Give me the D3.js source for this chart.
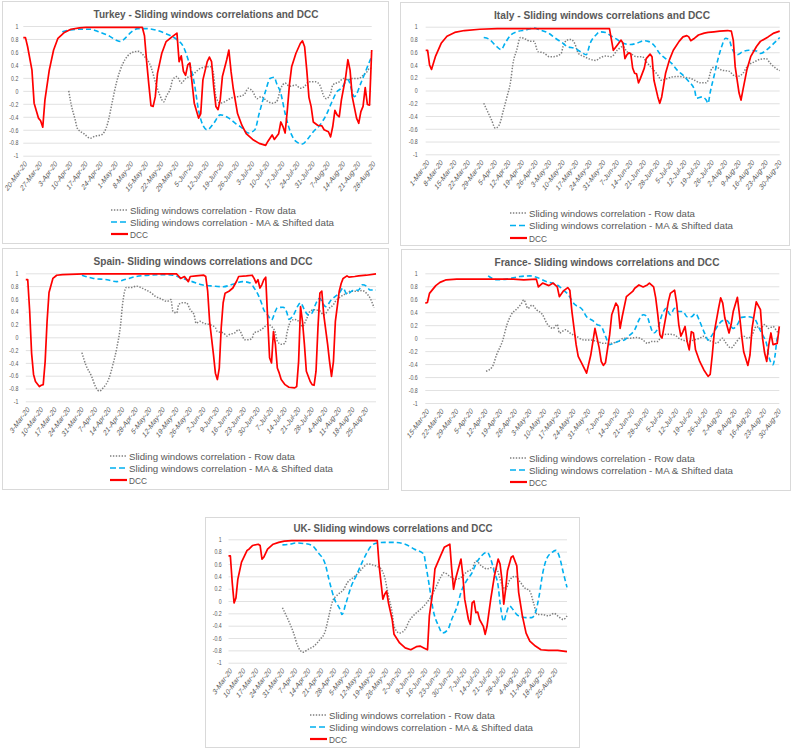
<!DOCTYPE html>
<html><head><meta charset="utf-8">
<script src="https://cdn.jsdelivr.net/npm/d3@7"></script>
<style>
body{margin:0;background:#fff}
svg text{font-family:"Liberation Sans",Arial,sans-serif}
</style>
</head><body>
<svg id="c" width="792" height="749"></svg>
<script>
// ---------- DATA (x = days after first axis date, y = correlation) ----------
const yTicks = [1, 0.8, 0.6, 0.4, 0.2, 0, -0.2, -0.4, -0.6, -0.8, -1];
const yTickLabels = ["1","0.8","0.6","0.4","0.2","0","-0.2","-0.4","-0.6","-0.8","-1"];
const legendLabels = ["Sliding windows correlation - Row data","Sliding windows correlation - MA & Shifted data","DCC"];

const turkeyDates = ["20-Mar-20","27-Mar-20","3-Apr-20","10-Apr-20","17-Apr-20","24-Apr-20","1-May-20","8-May-20","15-May-20","22-May-20","29-May-20","5-Jun-20","12-Jun-20","19-Jun-20","26-Jun-20","3-Jul-20","10-Jul-20","17-Jul-20","24-Jul-20","31-Jul-20","7-Aug-20","14-Aug-20","21-Aug-20","28-Aug-20"];
const italyDates = ["1-Mar-20","8-Mar-20","15-Mar-20","22-Mar-20","29-Mar-20","5-Apr-20","12-Apr-20","19-Apr-20","26-Apr-20","3-May-20","10-May-20","17-May-20","24-May-20","31-May-20","7-Jun-20","14-Jun-20","21-Jun-20","28-Jun-20","5-Jul-20","12-Jul-20","19-Jul-20","26-Jul-20","2-Aug-20","9-Aug-20","16-Aug-20","23-Aug-20","30-Aug-20"];
const spainDates = ["3-Mar-20","10-Mar-20","17-Mar-20","24-Mar-20","31-Mar-20","7-Apr-20","14-Apr-20","21-Apr-20","28-Apr-20","5-May-20","12-May-20","19-May-20","26-May-20","2-Jun-20","9-Jun-20","16-Jun-20","23-Jun-20","30-Jun-20","7-Jul-20","14-Jul-20","21-Jul-20","28-Jul-20","4-Aug-20","11-Aug-20","18-Aug-20","25-Aug-20"];
const franceDates = ["15-Mar-20","22-Mar-20","29-Mar-20","5-Apr-20","12-Apr-20","19-Apr-20","26-Apr-20","3-May-20","10-May-20","17-May-20","24-May-20","31-May-20","7-Jun-20","14-Jun-20","21-Jun-20","28-Jun-20","5-Jul-20","12-Jul-20","19-Jul-20","26-Jul-20","2-Aug-20","9-Aug-20","16-Aug-20","23-Aug-20","30-Aug-20"];
const ukDates = ["3-Mar-20","10-Mar-20","17-Mar-20","24-Mar-20","31-Mar-20","7-Apr-20","14-Apr-20","21-Apr-20","28-Apr-20","5-May-20","12-May-20","19-May-20","26-May-20","2-Jun-20","9-Jun-20","16-Jun-20","23-Jun-20","30-Jun-20","7-Jul-20","14-Jul-20","21-Jul-20","28-Jul-20","4-Aug-20","11-Aug-20","18-Aug-20","25-Aug-20"];

const turkeyRow = [[21,0.0],[22,-0.19],[24,-0.45],[25,-0.58],[28,-0.66],[31,-0.73],[33,-0.7],[36,-0.68],[39,-0.5],[41,-0.19],[43,0.12],[46,0.42],[48,0.53],[51,0.6],[53,0.61],[56,0.53],[59,0.37],[61,0.14],[63,-0.06],[65,-0.17],[66,-0.09],[68,0.04],[69,0.17],[71,0.22],[73,0.12],[75,0.19],[78,0.24],[80,0.3],[82,0.35],[85,0.37],[87,0.37],[88,0.24],[89,-0.09],[91,-0.19],[93,-0.17],[95,-0.13],[97,-0.1],[99,-0.09],[102,-0.06],[104,0.04],[106,-0.01],[108,-0.12],[110,-0.09],[112,-0.14],[115,-0.19],[117,-0.17],[119,0.04],[121,0.12],[123,0.07],[126,0.09],[128,0.04],[130,0.07],[132,0.14],[135,0.14],[137,0.09],[139,-0.09],[140,-0.12],[142,-0.04],[143,0.09],[146,0.14],[148,0.19],[150,0.17],[152,0.19],[155,0.19],[157,0.24],[159,0.3],[160,0.35],[161,0.35]];
const turkeyMA = [[18,0.91],[22,0.94],[26,0.95],[31,0.95],[35,0.91],[40,0.84],[43,0.78],[45,0.76],[47,0.81],[50,0.91],[53,0.96],[57,0.96],[62,0.93],[66,0.88],[71,0.79],[74,0.68],[76,0.5],[79,0.12],[81,-0.3],[83,-0.53],[85,-0.6],[88,-0.5],[91,-0.37],[95,-0.42],[98,-0.5],[101,-0.57],[104,-0.65],[107,-0.6],[109,-0.35],[112,0.0],[114,0.19],[116,0.21],[117,0.12],[119,-0.04],[121,-0.35],[124,-0.68],[126,-0.78],[129,-0.82],[131,-0.76],[134,-0.63],[137,-0.53],[140,-0.37],[143,-0.14],[145,-0.01],[147,0.04],[149,0.14],[150,0.17],[153,-0.09],[156,0.12],[159,0.37],[161,0.53]];
const turkeyDCC = [[0,0.82],[1,0.82],[2,0.68],[4,0.32],[5,-0.19],[7,-0.42],[8,-0.46],[9,-0.56],[10,-0.14],[12,0.32],[14,0.63],[16,0.81],[19,0.9],[22,0.95],[26,0.97],[29,0.98],[55,0.98],[56,0.85],[57,0.45],[58,0.1],[59,-0.23],[60,-0.24],[61,-0.09],[62,0.27],[64,0.58],[66,0.76],[69,0.84],[71,0.89],[72,0.45],[73,0.54],[74,0.3],[75,0.24],[76,0.4],[77,0.43],[78,0.12],[79,-0.19],[81,-0.42],[82,-0.35],[83,0.17],[85,0.45],[86,0.52],[87,0.45],[88,0.06],[89,-0.24],[90,-0.29],[91,-0.14],[92,0.22],[94,0.48],[95,0.63],[96,0.3],[97,0.04],[99,-0.35],[101,-0.53],[103,-0.66],[106,-0.75],[109,-0.81],[112,-0.84],[113,-0.78],[115,-0.68],[116,-0.75],[118,-0.66],[119,-0.48],[120,-0.55],[121,-0.65],[122,-0.3],[123,0.1],[124,0.37],[126,0.58],[128,0.73],[129,0.77],[130,0.68],[131,0.32],[132,-0.1],[133,-0.24],[134,-0.48],[136,-0.53],[138,-0.54],[139,-0.6],[141,-0.63],[142,-0.71],[143,-0.55],[144,-0.3],[145,-0.37],[146,-0.4],[147,-0.14],[149,0.22],[150,0.48],[151,0.32],[152,-0.09],[154,-0.42],[155,-0.5],[156,-0.32],[157,-0.24],[158,0.05],[159,-0.21],[160,-0.22],[161,0.63]];

const italyRow = [[30,-0.2],[32,-0.33],[34,-0.46],[36,-0.59],[38,-0.54],[40,-0.33],[42,-0.1],[44,0.16],[45,0.4],[47,0.63],[49,0.83],[52,0.8],[54,0.77],[56,0.77],[58,0.61],[61,0.59],[64,0.53],[66,0.53],[70,0.58],[71,0.69],[73,0.79],[75,0.8],[77,0.74],[79,0.58],[82,0.53],[85,0.49],[88,0.47],[90,0.51],[93,0.54],[96,0.53],[99,0.63],[102,0.69],[104,0.61],[107,0.56],[109,0.53],[112,0.53],[114,0.45],[117,0.35],[120,0.24],[122,0.16],[125,0.19],[127,0.21],[131,0.22],[133,0.21],[137,0.19],[139,0.16],[142,0.12],[145,0.12],[146,0.16],[148,0.35],[150,0.37],[153,0.32],[157,0.3],[159,0.24],[161,0.22],[164,0.27],[166,0.37],[170,0.45],[173,0.49],[176,0.5],[178,0.43],[181,0.35],[183,0.31]];
const italyMA = [[30,0.83],[33,0.8],[36,0.71],[39,0.64],[41,0.74],[44,0.87],[47,0.92],[52,0.95],[56,0.98],[59,0.95],[64,0.89],[67,0.82],[71,0.74],[73,0.69],[77,0.66],[80,0.61],[83,0.56],[85,0.74],[88,0.87],[90,0.92],[93,0.91],[96,0.85],[99,0.8],[102,0.74],[106,0.72],[109,0.74],[113,0.78],[115,0.77],[118,0.71],[121,0.58],[124,0.5],[127,0.43],[130,0.32],[133,0.24],[136,0.14],[139,0.01],[140,-0.12],[143,-0.1],[145,-0.15],[146,-0.2],[147,-0.04],[149,0.22],[151,0.48],[153,0.69],[155,0.82],[157,0.79],[158,0.69],[161,0.56],[164,0.61],[167,0.63],[171,0.62],[173,0.58],[176,0.63],[179,0.71],[183,0.83]];
const italyDCC = [[0,0.63],[1,0.63],[2,0.4],[3,0.33],[5,0.53],[8,0.74],[11,0.85],[15,0.91],[20,0.94],[28,0.96],[37,0.97],[95,0.97],[97,0.63],[99,0.71],[101,0.79],[102,0.74],[103,0.5],[104,0.56],[105,0.59],[106,0.58],[107,0.35],[108,0.27],[109,0.26],[110,0.12],[111,0.19],[113,0.35],[114,0.5],[116,0.57],[117,0.53],[118,0.16],[120,-0.1],[121,-0.2],[122,-0.1],[124,0.27],[126,0.48],[128,0.63],[131,0.77],[133,0.84],[135,0.86],[136,0.84],[137,0.78],[139,0.82],[141,0.87],[144,0.9],[146,0.91],[149,0.92],[152,0.93],[156,0.94],[158,0.93],[159,0.79],[160,0.37],[162,-0.04],[163,-0.15],[164,0.01],[166,0.32],[168,0.53],[171,0.69],[173,0.77],[177,0.84],[180,0.9],[183,0.93]];

const spainRow = [[29,-0.24],[31,-0.43],[34,-0.61],[36,-0.77],[38,-0.84],[40,-0.79],[43,-0.64],[45,-0.43],[47,-0.17],[49,0.2],[50,0.51],[52,0.78],[55,0.78],[57,0.8],[60,0.77],[62,0.74],[65,0.69],[67,0.64],[70,0.6],[73,0.56],[75,0.59],[76,0.41],[78,0.38],[79,0.51],[81,0.54],[83,0.54],[85,0.43],[87,0.35],[88,0.22],[90,0.25],[92,0.22],[95,0.2],[98,0.15],[99,0.09],[102,0.07],[104,0.02],[105,0.04],[108,0.07],[110,0.12],[112,0.02],[113,-0.04],[115,-0.04],[117,-0.01],[118,0.07],[120,0.09],[123,0.15],[125,0.2],[127,0.17],[129,0.07],[130,-0.06],[132,-0.11],[134,-0.09],[135,0.07],[137,0.25],[139,0.28],[141,0.25],[143,0.17],[145,0.28],[147,0.41],[149,0.43],[152,0.41],[154,0.35],[157,0.46],[159,0.51],[160,0.56],[163,0.64],[166,0.69],[168,0.72],[171,0.72],[174,0.73],[176,0.69],[178,0.61],[180,0.46]];
const spainMA = [[29,0.97],[35,0.92],[42,0.9],[47,0.87],[52,0.91],[57,0.95],[64,0.97],[71,0.98],[76,0.97],[81,0.92],[86,0.87],[91,0.82],[97,0.8],[102,0.79],[107,0.83],[112,0.87],[116,0.85],[118,0.77],[120,0.67],[122,0.52],[123,0.43],[125,0.35],[127,0.27],[129,0.41],[130,0.46],[133,0.47],[135,0.38],[136,0.28],[138,0.33],[141,0.51],[142,0.54],[144,0.43],[146,0.35],[148,0.38],[149,0.46],[152,0.61],[153,0.56],[155,0.48],[158,0.59],[160,0.64],[162,0.69],[164,0.77],[166,0.67],[169,0.73],[172,0.74],[174,0.82],[176,0.8],[178,0.74],[181,0.74]];
const spainDCC = [[0,0.9],[1,0.9],[2,0.41],[3,-0.25],[4,-0.58],[5,-0.69],[7,-0.77],[8,-0.75],[9,-0.74],[10,-0.38],[11,0.25],[12,0.7],[14,0.92],[16,0.97],[19,0.98],[30,0.99],[78,0.99],[80,0.92],[82,0.95],[84,0.87],[85,0.95],[88,0.96],[92,0.97],[93,0.95],[94,0.72],[95,0.25],[97,-0.27],[98,-0.56],[99,-0.66],[100,-0.48],[101,0.15],[102,0.54],[103,0.69],[105,0.72],[107,0.77],[109,0.88],[110,0.95],[114,0.96],[117,0.97],[118,0.92],[119,0.85],[120,0.9],[121,0.77],[122,0.82],[123,0.9],[124,0.94],[125,0.29],[126,-0.32],[127,-0.4],[128,0.09],[129,-0.11],[130,-0.48],[131,-0.56],[132,-0.66],[134,-0.74],[136,-0.78],[139,-0.79],[140,-0.77],[141,-0.38],[142,0.48],[143,0.25],[144,-0.11],[145,-0.53],[147,-0.69],[148,-0.74],[149,-0.75],[150,-0.53],[151,0.15],[152,0.69],[153,0.72],[154,0.35],[156,-0.11],[157,-0.38],[158,-0.61],[159,-0.38],[160,0.25],[162,0.72],[163,0.84],[164,0.92],[166,0.96],[167,0.94],[170,0.95],[172,0.96],[176,0.97],[181,0.99]];

const franceRow = [[29,-0.51],[32,-0.44],[34,-0.26],[37,-0.03],[39,0.21],[41,0.36],[44,0.46],[46,0.54],[47,0.59],[49,0.46],[51,0.51],[53,0.44],[56,0.36],[58,0.23],[61,0.15],[63,0.21],[64,0.08],[67,0.13],[69,0.08],[72,0.03],[76,-0.03],[79,-0.03],[82,-0.05],[85,-0.08],[88,-0.08],[92,-0.05],[95,0.0],[98,0.0],[101,0.01],[104,-0.03],[106,-0.08],[108,-0.05],[111,-0.05],[113,0.05],[116,0.06],[119,0.05],[121,0.0],[123,-0.03],[126,-0.05],[128,-0.03],[131,0.0],[133,0.03],[135,-0.03],[137,-0.05],[139,-0.08],[142,0.0],[143,-0.05],[146,-0.15],[148,-0.08],[150,0.0],[152,0.03],[154,0.0],[156,0.05],[158,0.18],[160,0.15],[162,0.21],[164,0.15],[166,0.18],[168,0.1],[169,0.08]];
const franceMA = [[30,0.96],[34,0.9],[39,0.91],[45,0.95],[50,0.96],[53,0.94],[58,0.87],[63,0.82],[66,0.74],[68,0.68],[71,0.53],[75,0.44],[77,0.33],[80,0.27],[82,0.21],[84,0.18],[86,0.03],[88,-0.1],[90,-0.08],[92,-0.05],[95,-0.03],[97,0.03],[100,0.13],[102,0.28],[104,0.36],[106,0.33],[107,0.23],[109,0.08],[111,0.15],[113,0.36],[115,0.46],[117,0.36],[119,0.46],[121,0.41],[123,0.41],[125,0.33],[127,0.33],[129,0.38],[131,0.26],[133,0.1],[134,0.03],[135,-0.03],[137,0.05],[140,0.21],[142,0.27],[144,0.27],[146,0.18],[147,0.15],[149,0.21],[151,0.32],[154,0.33],[156,0.32],[158,0.26],[159,0.18],[161,0.05],[163,-0.1],[164,-0.28],[166,-0.41],[167,-0.26],[168,0.0],[169,0.05]];
const franceDCC = [[0,0.54],[1,0.55],[2,0.69],[5,0.81],[7,0.86],[10,0.9],[15,0.91],[26,0.91],[42,0.91],[47,0.9],[53,0.91],[54,0.79],[56,0.85],[59,0.81],[61,0.85],[63,0.79],[64,0.64],[66,0.73],[68,0.78],[69,0.74],[70,0.41],[72,-0.1],[73,-0.28],[75,-0.41],[77,-0.54],[79,-0.26],[81,0.15],[82,0.0],[83,-0.15],[84,-0.36],[85,-0.42],[86,-0.38],[88,0.05],[89,0.36],[91,0.54],[92,0.49],[93,0.15],[94,0.33],[96,0.64],[99,0.72],[100,0.77],[102,0.82],[104,0.79],[106,0.82],[107,0.85],[109,0.79],[110,0.62],[111,0.36],[112,0.05],[113,0.0],[115,0.36],[116,0.56],[117,0.69],[119,0.74],[120,0.54],[121,0.21],[122,0.03],[123,0.1],[124,0.18],[125,-0.05],[126,-0.18],[127,0.1],[128,0.08],[129,-0.18],[131,-0.36],[133,-0.49],[135,-0.59],[136,-0.56],[137,-0.26],[138,0.1],[140,0.46],[141,0.62],[142,0.54],[143,0.31],[145,0.08],[146,0.21],[147,0.41],[149,0.63],[150,0.36],[151,0.05],[152,-0.21],[154,-0.42],[155,-0.26],[156,0.15],[157,0.36],[158,0.56],[160,0.44],[161,0.0],[162,-0.23],[163,-0.36],[164,-0.1],[165,0.08],[166,-0.1],[168,-0.08],[169,0.18]];

const ukRow = [[29,-0.11],[32,-0.3],[35,-0.52],[37,-0.71],[40,-0.83],[43,-0.78],[46,-0.73],[49,-0.63],[52,-0.49],[54,-0.24],[56,0.0],[59,0.11],[62,0.19],[64,0.3],[67,0.38],[70,0.46],[72,0.53],[75,0.6],[78,0.58],[80,0.56],[82,0.52],[84,0.38],[86,0.08],[88,-0.19],[89,-0.41],[92,-0.52],[95,-0.46],[97,-0.33],[100,-0.22],[103,-0.14],[106,-0.05],[108,0.03],[111,0.19],[114,0.38],[116,0.46],[119,0.4],[122,0.35],[125,0.38],[128,0.47],[131,0.52],[133,0.65],[136,0.57],[139,0.52],[141,0.54],[144,0.52],[147,0.27],[149,0.19],[151,0.33],[154,0.4],[157,0.3],[159,0.22],[162,0.16],[164,-0.03],[166,-0.22],[169,-0.22],[172,-0.24],[175,-0.2],[177,-0.24],[180,-0.3],[182,-0.24]];
const ukMA = [[29,0.91],[33,0.92],[36,0.94],[41,0.93],[45,0.9],[48,0.79],[52,0.6],[54,0.35],[57,0.03],[60,-0.14],[61,-0.22],[63,-0.05],[66,0.24],[69,0.43],[71,0.57],[74,0.76],[77,0.9],[80,0.94],[84,0.95],[89,0.95],[95,0.92],[100,0.84],[105,0.76],[106,0.6],[108,0.24],[110,-0.14],[113,-0.41],[115,-0.52],[118,-0.46],[120,-0.3],[123,-0.08],[125,0.14],[128,0.33],[131,0.46],[133,0.6],[136,0.73],[139,0.79],[141,0.68],[143,0.46],[145,0.24],[146,-0.03],[148,-0.33],[149,-0.24],[151,-0.08],[153,-0.14],[155,-0.22],[158,-0.26],[160,-0.27],[163,-0.27],[165,-0.19],[167,0.08],[169,0.46],[171,0.68],[174,0.79],[176,0.82],[178,0.71],[180,0.46],[182,0.22]];
const ukDCC = [[0,0.73],[1,0.73],[2,0.3],[3,-0.03],[4,0.05],[5,0.35],[7,0.63],[10,0.82],[11,0.84],[13,0.9],[16,0.92],[17,0.9],[18,0.68],[19,0.71],[21,0.84],[24,0.92],[27,0.95],[30,0.97],[34,0.98],[80,0.98],[81,0.57],[83,0.03],[84,0.11],[85,0.16],[86,-0.03],[88,-0.3],[89,-0.54],[92,-0.68],[95,-0.76],[98,-0.79],[101,-0.74],[103,-0.73],[105,-0.76],[107,-0.79],[108,-0.24],[110,0.19],[111,0.52],[114,0.73],[116,0.87],[119,0.92],[120,0.52],[121,0.19],[122,0.35],[124,0.57],[125,0.68],[126,0.41],[127,0.03],[129,-0.3],[130,-0.38],[131,-0.03],[132,0.0],[133,-0.19],[134,-0.18],[135,-0.3],[137,-0.41],[138,-0.54],[139,-0.41],[141,0.03],[143,0.41],[145,0.68],[146,0.6],[147,0.35],[148,-0.05],[149,0.19],[150,0.49],[152,0.71],[153,0.73],[155,0.57],[156,0.14],[158,-0.24],[160,-0.52],[162,-0.65],[165,-0.73],[168,-0.79],[172,-0.8],[177,-0.8],[182,-0.82]];

// ---------- LAYOUT ----------
const panels = [
  {title:"Turkey - Sliding windows correlations and DCC", dates:turkeyDates, row:turkeyRow, ma:turkeyMA, dcc:turkeyDCC,
   frame:[2,1,388,243], px:[23.3,371.7], py:[26,155.7], ylx:18.3, tt:[206,14,225], leg:[111,210,12]},
  {title:"Italy - Sliding windows correlations and DCC", dates:italyDates, row:italyRow, ma:italyMA, dcc:italyDCC,
   frame:[400,2,789,245], px:[425.7,779.7], py:[26.7,154.3], ylx:417.7, tt:[602,15,216], leg:[510,213,12.5]},
  {title:"Spain- Sliding windows correlations and DCC", dates:spainDates, row:spainRow, ma:spainMA, dcc:spainDCC,
   frame:[2,248,388,489], px:[25.8,376], py:[273.3,401.3], ylx:18.3, tt:[203,261,219], leg:[110,456,12]},
  {title:"France- Sliding windows correlations and DCC", dates:franceDates, row:franceRow, ma:franceMA, dcc:franceDCC,
   frame:[401,249,790,490], px:[425.3,779.3], py:[273.3,403], ylx:417.7, tt:[607,262,225], leg:[510,458,12]},
  {title:"UK- Sliding windows correlations and DCC", dates:ukDates, row:ukRow, ma:ukMA, dcc:ukDCC,
   frame:[205,517,579,747], px:[228.5,567], py:[539.3,662.7], ylx:221.7, tt:[393,528,199], leg:[310,715,12]}
];

const styles = [
  {stroke:"#7f7f7f", width:1.5, dash:"1.4,1.5", curve:d3.curveMonotoneX},
  {stroke:"#00b0f0", width:1.6, dash:"5,3", curve:d3.curveMonotoneX},
  {stroke:"#ff0000", width:1.7, dash:null, curve:d3.curveLinear}
];
const legendWidths = [166, 204, 18];
const txtCol = "#595959";

const svg = d3.select("#c");

panels.forEach(p => {
  const g = svg.append("g");
  const [fx0, fy0, fx1, fy1] = p.frame;
  g.append("rect").attr("x", fx0 + 0.5).attr("y", fy0 + 0.5)
    .attr("width", fx1 - fx0).attr("height", fy1 - fy0)
    .attr("fill", "#fff").attr("stroke", "#d9d9d9").attr("stroke-width", 1);

  const series = [p.row, p.ma, p.dcc];
  const maxDay = d3.max(series, s => d3.max(s, d => d[0]));
  const x = d3.scaleLinear().domain([0, maxDay]).range(p.px);
  const y = d3.scaleLinear().domain([-1, 1]).range([p.py[1], p.py[0]]);

  // y axis with gridlines
  const ya = g.append("g").attr("transform", `translate(${p.px[0]},0)`)
    .call(d3.axisLeft(y).tickValues(yTicks)
      .tickFormat((d, i) => yTickLabels[i])
      .tickSize(-(p.px[1] - p.px[0])).tickPadding(0));
  ya.select(".domain").remove();
  ya.selectAll(".tick line").attr("stroke", "#d9d9d9").attr("stroke-width", 0.8);
  ya.selectAll(".tick text")
    .attr("x", 0)
    .attr("transform", `translate(${p.ylx - p.px[0]},0) scale(0.75,1)`)
    .attr("fill", txtCol).style("font-size", "7px");

  // x axis (weekly date labels)
  const xa = g.append("g").attr("transform", `translate(0,${p.py[1]})`)
    .call(d3.axisBottom(x).tickValues(p.dates.map((d, i) => i * 7))
      .tickFormat((d, i) => p.dates[i]).tickSize(0));
  xa.select(".domain").remove();
  xa.selectAll(".tick text")
    .attr("x", 0).attr("y", 0).attr("dy", "0.35em")
    .attr("text-anchor", "end")
    .attr("transform", "translate(2,6.5) scale(0.72,1) rotate(-45)")
    .attr("fill", txtCol).style("font-size", "8.4px");

  // series
  series.forEach((s, i) => {
    const st = styles[i];
    const line = d3.line().x(d => x(d[0])).y(d => y(d[1])).curve(st.curve);
    g.append("path").datum(s).attr("d", line)
      .attr("fill", "none").attr("stroke", st.stroke)
      .attr("stroke-width", st.width)
      .attr("stroke-dasharray", st.dash)
      .attr("stroke-linejoin", "round");
  });

  // title
  g.append("text").attr("x", p.tt[0]).attr("y", p.tt[1])
    .attr("text-anchor", "middle").attr("dominant-baseline", "central")
    .attr("fill", txtCol).style("font-size", "10.8px").style("font-weight", "bold")
    .attr("textLength", p.tt[2]).attr("lengthAdjust", "spacingAndGlyphs")
    .text(p.title);

  // legend
  const [lx, ly, ls] = p.leg;
  legendLabels.forEach((lab, i) => {
    const st = styles[i];
    const yy = ly + i * ls;
    g.append("line").attr("x1", lx).attr("x2", lx + 17).attr("y1", yy).attr("y2", yy)
      .attr("stroke", st.stroke).attr("stroke-width", i === 2 ? 2.2 : st.width)
      .attr("stroke-dasharray", i === 1 ? "6,3" : st.dash);
    g.append("text").attr("x", lx + 19).attr("y", yy)
      .attr("dominant-baseline", "central").attr("fill", txtCol)
      .style("font-size", "9.8px")
      .attr("textLength", legendWidths[i]).attr("lengthAdjust", "spacingAndGlyphs")
      .text(lab);
  });
});
</script>
</body></html>
